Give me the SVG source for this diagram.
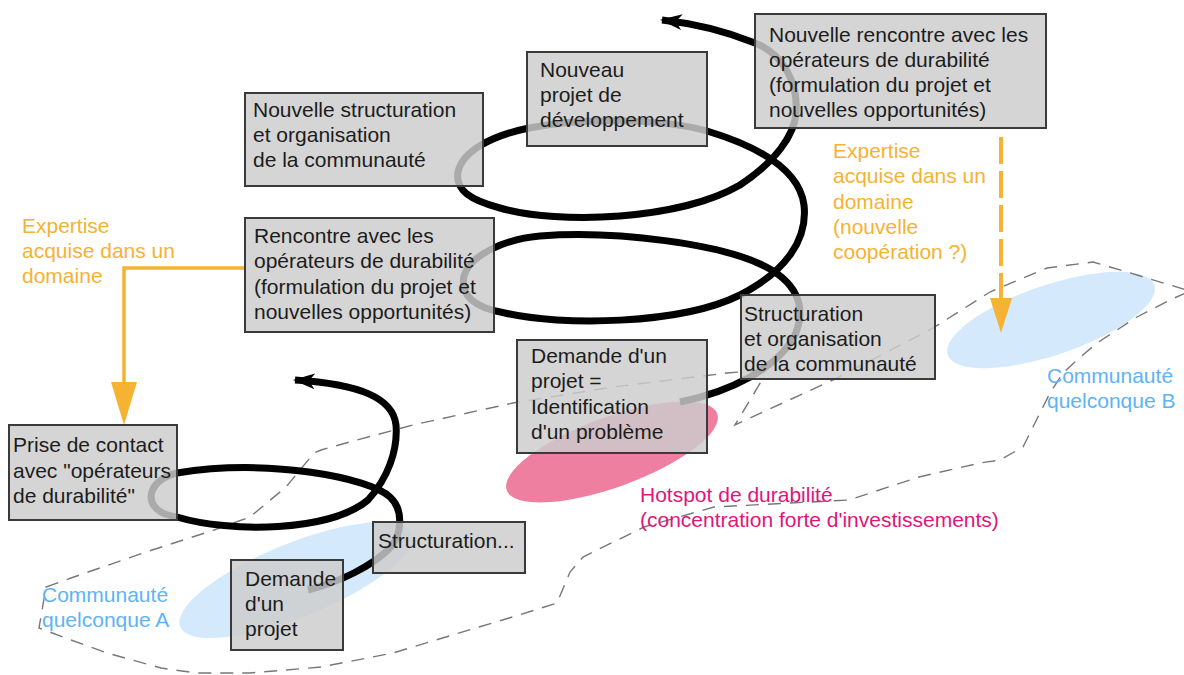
<svg xmlns="http://www.w3.org/2000/svg" width="1184" height="675" viewBox="0 0 1184 675">
<style>
text{font-family:"Liberation Sans",Arial,sans-serif;font-size:21px}
.box rect{fill:#cccccc;fill-opacity:0.83;stroke:#3a3a3a;stroke-width:2}
.box text{fill:#1c1c1c}
.spiral{fill:none;stroke:#000;stroke-width:7;marker-end:url(#ah)}
.outline{fill:none;stroke:#777;stroke-width:1.4;stroke-dasharray:13 9}
.org{fill:#f6b232}
.blue{fill:#5db3f6}
.pink{fill:#e0157a}
</style>
<defs>
<marker id="ah" markerUnits="userSpaceOnUse" markerWidth="24" markerHeight="18" refX="20" refY="9" orient="auto">
<path d="M0,1 L22,9 L0,17 L6,9 z" fill="#000"/>
</marker>
</defs>
<rect width="1184" height="675" fill="#fff"/>
<g id="areas">
<ellipse cx="296" cy="580" rx="125" ry="37" transform="rotate(-22 296 580)" fill="#d4e9fb"/>
<ellipse cx="1051" cy="320" rx="109" ry="35" transform="rotate(-18.7 1051 320)" fill="#d4e9fb"/>
<ellipse cx="612" cy="452" rx="112" ry="35" transform="rotate(-20 612 452)" fill="#ee7fa1"/>
<path class="outline" d="M46,587 L71,578 L143,553 L214,530 L250,517 L286,487 L314,453 L321,450 L357,440 L413,425 L513,403 L613,387 L727,373 L752,371 L762,380 L735,425 L750,418 L835,379 L933,328 L990,292 L1047,268 L1093,262 L1127,272 L1170,285 L1190,291 L1170,300 L1137,317 L1097,343 L1077,360 L1063,373 L1050,393 L1033,427 L1023,447 L1000,460 L980,463 L919,477 L849,500 L714,507 L644,527 L583,557 L570,572 L557,603 L535,610 L509,618 L479,627 L393,653 L321,667 L250,673 L196,673 L161,668 L107,653 L71,640 L39,628 Z"/>
</g>
<g id="connectors">
<path class="spiral" d="M680,402 C730,392 778,368 795,335 C808,305 795,280 760,264 C720,245 620,230 540,236 C505,239 470,255 464,276 C460,296 475,308 505,313 C560,326 680,325 740,295 C785,272 808,240 804,205 C800,175 770,150 707,131 C660,118 580,118 529,128 C490,136 462,152 458,172 C455,190 470,200 500,208 C560,225 680,220 740,185 C775,162 795,135 796,112 C798,85 785,55 755,43 C730,33 700,24 662,20"/>
<path class="spiral" d="M308,590 C340,582 372,566 390,548 C402,534 404,510 390,497 C370,478 270,458 177,473 C145,480 140,512 177,517 C230,533 330,532 368,500 C388,478 398,450 396,425 C393,398 360,384 295,380"/>
<path d="M245,268 L124,268 L124,384" fill="none" stroke="#f6b232" stroke-width="3.5"/>
<polygon points="111,382 137,382 124,425" fill="#f6b232"/>
<path d="M1001,137 L1001,300" fill="none" stroke="#f6b232" stroke-width="4" stroke-dasharray="27 7"/>
<polygon points="990,298 1012,298 1001,333" fill="#f6b232"/>
</g>
<g id="n1" class="box"><rect x="755" y="14" width="291" height="114"/><text x="769" y="42">Nouvelle rencontre avec les</text><text x="769" y="67">opérateurs de durabilité</text><text x="769" y="92">(formulation du projet et</text><text x="769" y="117">nouvelles opportunités)</text></g>
<g id="n2" class="box"><rect x="527" y="52" width="180" height="94"/><text x="540" y="77">Nouveau</text><text x="540" y="102">projet de</text><text x="540" y="127">développement</text></g>
<g id="n3" class="box"><rect x="245" y="93" width="238" height="93"/><text x="253" y="117">Nouvelle structuration</text><text x="253" y="142">et organisation</text><text x="253" y="167">de la communauté</text></g>
<g id="n4" class="box"><rect x="245" y="218" width="249" height="114"/><text x="254" y="243">Rencontre avec les</text><text x="254" y="268">opérateurs de durabilité</text><text x="254" y="294">(formulation du projet et</text><text x="254" y="319">nouvelles opportunités)</text></g>
<g id="n5" class="box"><rect x="741" y="295" width="194" height="84"/><text x="744" y="321">Structuration</text><text x="744" y="346">et organisation</text><text x="744" y="371">de la communauté</text></g>
<g id="n6" class="box"><rect x="517" y="340" width="190" height="113"/><text x="531" y="363">Demande d'un</text><text x="531" y="388">projet =</text><text x="531" y="414">Identification</text><text x="531" y="439">d'un problème</text></g>
<g id="n7" class="box"><rect x="9" y="425" width="168" height="95"/><text x="13" y="452">Prise de contact</text><text x="13" y="478">avec "opérateurs</text><text x="13" y="503">de durabilité"</text></g>
<g id="n8" class="box"><rect x="373" y="522" width="152" height="51"/><text x="378" y="548">Structuration...</text></g>
<g id="n9" class="box"><rect x="231" y="560" width="112" height="90"/><text x="245" y="586">Demande</text><text x="245" y="611">d'un</text><text x="245" y="636">projet</text></g>
<g id="labels">
<text class="org" x="22" y="233">Expertise</text><text class="org" x="22" y="258">acquise dans un</text><text class="org" x="22" y="283">domaine</text>
<text class="org" x="833" y="158">Expertise</text><text class="org" x="833" y="183">acquise dans un</text><text class="org" x="833" y="209">domaine</text><text class="org" x="833" y="234">(nouvelle</text><text class="org" x="833" y="259">coopération ?)</text>
<text class="blue" x="42" y="602">Communauté</text><text class="blue" x="42" y="627">quelconque A</text>
<text class="blue" x="1047" y="383">Communauté</text><text class="blue" x="1047" y="408">quelconque B</text>
<text class="pink" x="640" y="502">Hotspot de durabilité</text><text class="pink" x="640" y="527">(concentration forte d'investissements)</text>
</g>
</svg>
